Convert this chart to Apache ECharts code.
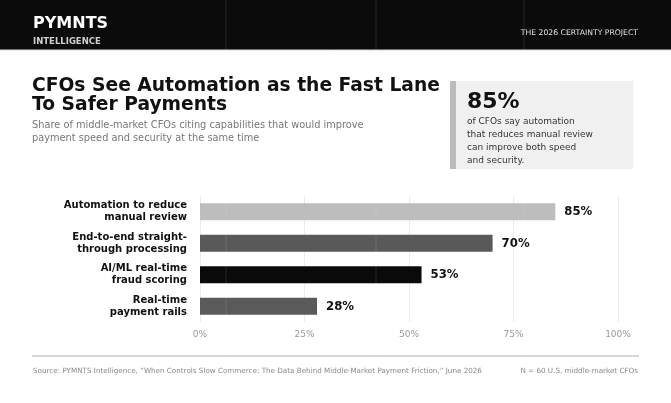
<!DOCTYPE html>
<html>
<head>
<meta charset="utf-8">
<script src="https://cdn.jsdelivr.net/npm/echarts@6/dist/echarts.min.js"></script>
<style>
  html, body { margin: 0; padding: 0; background: #fff; }
  #main { width: 671px; height: 403px; }
</style>
</head>
<body>
<div id="main"></div>
<script>
// data
var categories = [
    'Automation to reduce\nmanual review',
    'End-to-end straight-\nthrough processing',
    'AI/ML real-time\nfraud scoring',
    'Real-time\npayment rails'
];
var values = [85, 70, 53, 28];
var barColors = ['#bdbdbd', '#595959', '#0a0a0a', '#5a5a5a'];
var tickValues = [0, 25, 50, 75, 100];

var font = 'DejaVu Sans';

var myChart = echarts.init(document.getElementById('main'), null, {renderer: 'canvas'});

var barData = [];
for (var i = 0; i < values.length; i++) {
    barData.push({value: values[i], itemStyle: {color: barColors[i]}});
}

var option = {
    backgroundColor: '#fff',
    animation: false,
    grid: {
        left: 200,
        right: 53,
        top: 196,
        bottom: 81
    },
    xAxis: {
        type: 'value',
        min: tickValues[0],
        max: tickValues[tickValues.length - 1],
        interval: 25,
        axisLine: {show: false},
        axisTick: {show: false},
        splitLine: {lineStyle: {color: '#ebebeb', width: 1}},
        axisLabel: {
            formatter: '{value}%',
            color: '#999',
            fontFamily: font,
            fontSize: 9,
            margin: 8
        }
    },
    yAxis: {
        type: 'category',
        inverse: true,
        data: categories,
        axisLine: {show: false},
        axisTick: {show: false},
        axisLabel: {
            color: '#111',
            fontFamily: font,
            fontWeight: 'bold',
            fontSize: 10,
            lineHeight: 12,
            margin: 13,
            align: 'right'
        }
    },
    series: [
        {
            type: 'bar',
            barWidth: 17,
            data: barData,
            label: {
                show: true,
                position: 'right',
                distance: 9,
                formatter: '{c}%',
                color: '#111',
                fontFamily: 'DejaVu Sans Condensed, ' + font,
                fontWeight: 'bold',
                fontSize: 13
            }
        }
    ],
    graphic: [
        // header band
        {type: 'rect', shape: {x: 0, y: 0, width: 671, height: 50}, style: {fill: '#0b0b0b'}, z: 0},
        {type: 'line', shape: {x1: 0, y1: 50, x2: 671, y2: 50}, style: {stroke: '#d9d9d9', lineWidth: 1}},
        {type: 'text', left: 33, top: 16, style: {text: 'PYMNTS', fill: '#fff', font: 'bold 16px DejaVu Sans'}},
        {type: 'text', left: 33, top: 37, style: {text: 'INTELLIGENCE', fill: '#cfcfcf', font: 'bold 8.5px DejaVu Sans'}},
        {type: 'text', right: 33, top: 29, style: {text: 'THE 2026 CERTAINTY PROJECT', fill: '#e0e0e0', font: '7.7px DejaVu Sans'}},

        // title + subtitle
        {type: 'text', left: 32, top: 76, style: {text: 'CFOs See Automation as the Fast Lane\nTo Safer Payments', fill: '#111', font: 'bold 18.7px DejaVu Sans', lineHeight: 19.5}},
        {type: 'text', left: 32, top: 119, style: {text: 'Share of middle-market CFOs citing capabilities that would improve\npayment speed and security at the same time', fill: '#777', font: '9.8px DejaVu Sans', lineHeight: 12.7}},

        // callout box
        {type: 'rect', shape: {x: 450, y: 81, width: 183, height: 88}, style: {fill: '#f0f0f0'}},
        {type: 'rect', shape: {x: 450, y: 81, width: 6, height: 88}, style: {fill: '#bbbbbb'}},
        {type: 'text', left: 467, top: 91, style: {text: '85%', fill: '#111', font: 'bold 22px DejaVu Sans'}},
        {type: 'text', left: 467, top: 115, style: {text: 'of CFOs say automation\nthat reduces manual review\ncan improve both speed\nand security.', fill: '#333', font: '9px DejaVu Sans', lineHeight: 13}},

        // footer
        {type: 'line', shape: {x1: 32, y1: 356, x2: 639, y2: 356}, style: {stroke: '#c8c8c8', lineWidth: 1.5}},
        {type: 'text', left: 33, top: 368, style: {text: 'Source: PYMNTS Intelligence, \u201cWhen Controls Slow Commerce: The Data Behind Middle-Market Payment Friction,\u201d June 2026', fill: '#888', font: '7.2px DejaVu Sans'}},
        {type: 'text', right: 33, top: 368, style: {text: 'N = 60 U.S. middle-market CFOs', fill: '#888', font: '7.2px DejaVu Sans'}},

        // faint vertical overlay lines
        {type: 'line', shape: {x1: 226, y1: 0, x2: 226, y2: 403}, style: {stroke: 'rgba(255,255,255,0.12)', lineWidth: 1}, z: 100},
        {type: 'line', shape: {x1: 376, y1: 0, x2: 376, y2: 403}, style: {stroke: 'rgba(255,255,255,0.12)', lineWidth: 1}, z: 100},
        {type: 'line', shape: {x1: 524, y1: 0, x2: 524, y2: 403}, style: {stroke: 'rgba(255,255,255,0.12)', lineWidth: 1}, z: 100}
    ]
};

myChart.setOption(option);
</script>
</body>
</html>
